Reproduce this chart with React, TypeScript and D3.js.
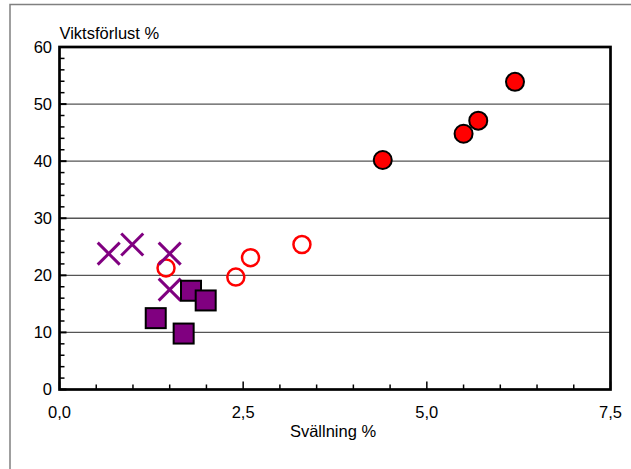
import React from "react";
import * as d3 from "d3";

// Svällning % (x) mot Viktsförlust % (y), fyra serier
const filledX = [4.4, 5.5, 5.7, 6.2];
const filledY = [40.2, 44.8, 47.1, 53.9];
const openX = [1.45, 2.4, 2.6, 3.3];
const openY = [21.3, 19.7, 23.1, 25.4];
const crossX = [0.67, 0.99, 1.5, 1.5];
const crossY = [23.8, 25.4, 23.8, 17.5];
const squareX = [1.79, 1.99, 1.31, 1.69];
const squareY = [17.3, 15.6, 12.5, 9.8];

const xTicks = [0, 2.5, 5, 7.5];
const yTicks = [0, 10, 20, 30, 40, 50, 60];
const xTitle = "Svällning %";
const yTitle = "Viktsförlust %";

const W = 631, H = 469;
const left = 59.5, right = 610.5, top = 47, bottom = 389.5;
const font = "'Liberation Sans', Arial, sans-serif";
const fs = 16.5;

const fmt = (v: number) => v.toFixed(1).replace(".", ",");

export default function App() {
  const x = d3.scaleLinear().domain([0, 7.5]).range([left, right]);
  const y = d3.scaleLinear().domain([0, 60]).range([bottom, top]);
  const xMinor = x.ticks(15).filter(t => !xTicks.includes(t));
  const yMinor = y.ticks(24).filter(t => !yTicks.includes(t));

  return (
    <svg width={W} height={H} style={{position: "absolute", left: 0, top: 0}}
      fontFamily={font}>
      <rect x={0} y={0} width={W} height={H} fill="white" />
      <rect x={10} y={4.5} width={W + 20} height={H + 20} fill="none"
        stroke="#808080" strokeWidth={1.5} />

      {/* gridlines */}
      {yTicks.filter(t => t > 0 && t < 60).map(t => (
        <line key={"g" + t} x1={left} x2={right} y1={y(t)} y2={y(t)}
          stroke="#555" strokeWidth={1.3} />
      ))}

      {/* ticks */}
      {yMinor.map(t => (
        <line key={"ym" + t} x1={left} x2={left + 5} y1={y(t)} y2={y(t)}
          stroke="black" strokeWidth={1.5} />
      ))}
      {yTicks.map(t => (
        <line key={"yM" + t} x1={left} x2={left + 7} y1={y(t)} y2={y(t)}
          stroke="black" strokeWidth={2} />
      ))}
      {xMinor.map(t => (
        <line key={"xm" + t} x1={x(t)} x2={x(t)} y1={bottom} y2={bottom - 5}
          stroke="black" strokeWidth={1.5} />
      ))}
      {xTicks.map(t => (
        <line key={"xM" + t} x1={x(t)} x2={x(t)} y1={bottom} y2={bottom - 8}
          stroke="black" strokeWidth={1.5} />
      ))}

      {/* marks */}
      {openX.map((v, i) => (
        <circle key={"o" + i} cx={x(v)} cy={y(openY[i])} r={8.5}
          fill="none" stroke="#ff0000" strokeWidth={2.5} />
      ))}
      {crossX.map((v, i) => {
        const cx = x(v), cy = y(crossY[i]), s = 11;
        return (
          <g key={"c" + i} stroke="#800080" strokeWidth={3}>
            <line x1={cx - s} y1={cy - s} x2={cx + s} y2={cy + s} />
            <line x1={cx - s} y1={cy + s} x2={cx + s} y2={cy - s} />
          </g>
        );
      })}
      {squareX.map((v, i) => (
        <rect key={"s" + i} x={x(v) - 10} y={y(squareY[i]) - 10}
          width={20} height={20} fill="#800080" stroke="black" strokeWidth={2} />
      ))}
      {filledX.map((v, i) => (
        <circle key={"f" + i} cx={x(v)} cy={y(filledY[i])} r={9}
          fill="#ff0000" stroke="black" strokeWidth={2} />
      ))}

      {/* frame */}
      <rect x={left} y={top} width={right - left} height={bottom - top}
        fill="none" stroke="black" strokeWidth={2.7} />

      {/* labels */}
      {yTicks.map(t => (
        <text key={"yl" + t} x={52} y={y(t)} dy="0.36em" textAnchor="end"
          fontSize={fs}>{t}</text>
      ))}
      {xTicks.map(t => (
        <text key={"xl" + t} x={x(t)} y={418} textAnchor="middle"
          fontSize={fs}>{fmt(t)}</text>
      ))}
      <text x={left} y={39} fontSize={fs}>{yTitle}</text>
      <text x={(left + right) / 2 - 2} y={437} textAnchor="middle" fontSize={fs}>{xTitle}</text>
    </svg>
  );
}
